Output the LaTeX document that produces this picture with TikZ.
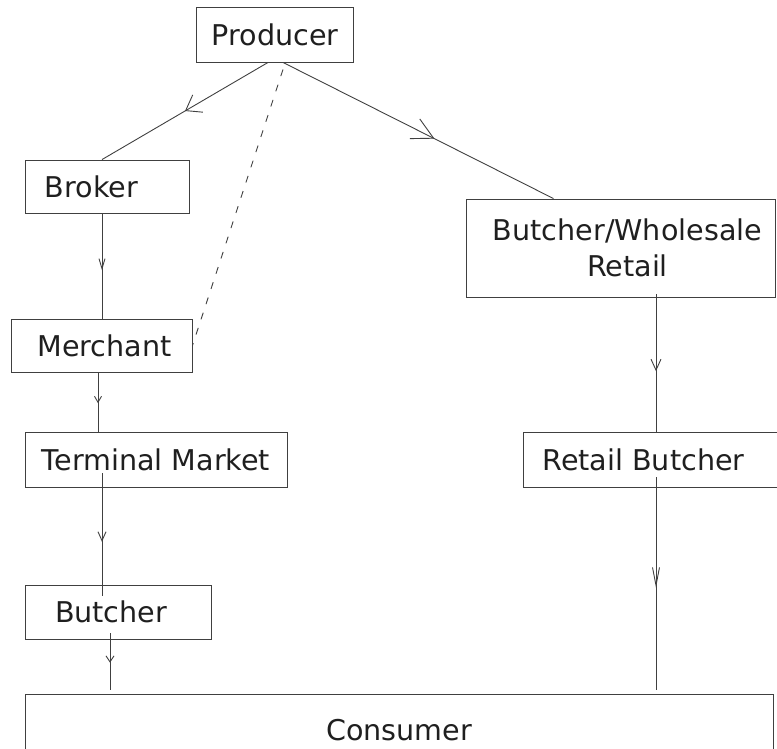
\documentclass[tikz,border=0pt]{standalone}
\usepackage{fontspec}
\setmainfont{DejaVu Sans}
\usepackage{tikz}
\usetikzlibrary{positioning,arrows.meta,decorations.markings}
\tikzset{
  box/.style={rectangle, draw=black!75, line width=0.9pt, inner sep=0pt, align=center,
              text=black!88, font=\fontsize{28.6}{36}\selectfont},
  leftbox/.style={box, align=left},
  flow/.style n args={3}{draw=black!75, line width=0.9pt, postaction={decorate},
               decoration={markings, mark=at position #1 with
                 {\arrow{Straight Barb[length=#2, width=#3, line width=0.9pt]}}}},
  promise/.style={draw=black!75, line width=0.9pt, dash pattern=on 7pt off 9pt},
}

\begin{document}
\begin{tikzpicture}[x=1pt, y=-1pt]
  \useasboundingbox (0,0) rectangle (777,748);

  \node[box, minimum width=157pt, minimum height=55pt] (producer) at (275,34.5) {Producer};
  \node[leftbox, minimum width=164pt, minimum height=53pt, inner xsep=20pt, text width=124pt] (broker) at (107,186.5) {Broker};
  \node[box, minimum width=181pt, minimum height=53pt] (merchant) at (101.5,345.5) {\hspace*{6pt}Merchant};
  \node[box, minimum width=309pt, minimum height=98pt] (wholesale) at (620.5,248) {\hspace*{14pt}Butcher/Wholesale\\\hspace*{14pt}Retail};
  \node[box, minimum width=262pt, minimum height=55pt] (terminal) at (156,459.5) {Terminal Market};
  \node[box, minimum width=256pt, minimum height=55pt] (retail) at (651,459.5) {\hspace*{-15pt}Retail Butcher};
  \node[leftbox, minimum width=186pt, minimum height=54pt, inner xsep=30pt, text width=126pt] (butcher) at (118,612) {Butcher};
  \node[box, minimum width=748pt, minimum height=72pt] (consumer) at (399,730) {Consumer};

  % from the producer
  \draw[flow={0.5}{14pt}{20pt}] ([xshift=-7pt]producer.south) -- ([xshift=-5pt]broker.north);
  \draw[flow={0.56}{21pt}{22pt}] ([xshift=8pt]producer.south) -- ([xshift=-67pt]wholesale.north);
  \draw[promise] ([xshift=8pt,yshift=-7pt]producer.south) -- (merchant.east);

  % left chain
  \draw[flow={0.54}{10pt}{6pt}] ([xshift=-5pt]broker.south) -- ([xshift=-5pt]broker.south |- merchant.north);
  \draw[flow={0.52}{6pt}{7pt}] ([xshift=-3.5pt]merchant.south) -- ([xshift=-3.5pt]merchant.south |- terminal.north);
  \draw[flow={0.56}{9pt}{8pt}] ([xshift=-54pt,yshift=14pt]terminal.south) -- ([xshift=-54pt,yshift=-11pt]terminal.south |- butcher.north);
  \draw[flow={0.52}{6pt}{8pt}] ([xshift=-8pt,yshift=6pt]butcher.south) -- ([xshift=-8pt,yshift=4pt]butcher.south |- consumer.north);

  % right chain
  \draw[flow={0.56}{11pt}{10pt}] ([xshift=35.5pt,yshift=3pt]wholesale.south) -- ([xshift=35.5pt]wholesale.south |- retail.north);
  \draw[flow={0.52}{18pt}{7pt}] ([xshift=5pt,yshift=10pt]retail.south) -- ([xshift=5pt,yshift=4pt]retail.south |- consumer.north);
\end{tikzpicture}
\end{document}
